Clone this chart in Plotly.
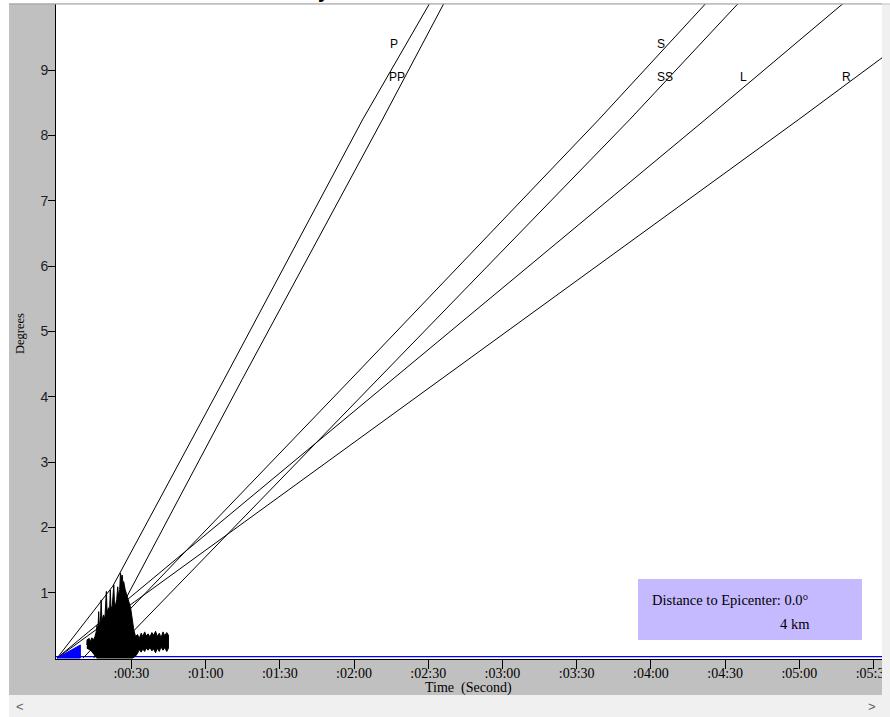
import plotly.graph_objects as go

# ---------------- data ----------------
# travel-time curves: time in seconds, distance in degrees
P_time = [0.0, 22.5, 67.4, 123.4, 150.5, 153.0]
P_deg = [0.0, 1.10, 4.26, 8.24, 10.02, 10.18]
PP_time = [14.8, 28.2, 48.9, 74.7, 131.4, 156.1, 158.5]
PP_deg = [0.0, 0.94, 2.42, 4.26, 8.24, 10.02, 10.18]
S_time = [10.5, 57.8, 118.5, 218.8, 262.3, 266.0]
S_deg = [0.0, 1.86, 4.26, 8.24, 10.02, 10.18]
SS_time = [20.3, 129.3, 231.3, 275.2, 279.0]
SS_deg = [0.0, 4.26, 8.24, 10.02, 10.18]
L_time = [0.0, 261.8, 317.6, 322.5]
L_deg = [0.0, 8.24, 10.02, 10.18]
R_time = [0.0, 299.5, 332.3, 345.0]
R_deg = [0.0, 8.24, 9.16, 9.50]

phase_names = ["P", "PP", "S", "SS", "L", "R"]
phase_times = [P_time, PP_time, S_time, SS_time, L_time, R_time]
phase_degs = [P_deg, PP_deg, S_deg, SS_deg, L_deg, R_deg]
label_time = [136.0, 137.5, 243.9, 245.8, 277.5, 318.9]
label_deg = [9.40, 8.89, 9.40, 8.89, 8.89, 8.89]

# seismogram envelope (upper edge left->right, lower edge right->left)
seis_up_t = [12.0, 12.1, 13.0, 13.5, 14.0, 14.7, 15.3, 15.8, 16.1, 16.5, 16.8, 17.1,
             17.5, 17.8, 18.1, 18.8, 19.3, 19.9, 20.2, 20.8, 21.2, 21.5, 21.8, 22.3,
             22.9, 23.2, 23.6, 24.1, 24.5, 24.8, 25.3, 25.6, 26.0, 26.3, 26.6, 26.9,
             27.5, 28.0, 28.5, 29.0, 29.7, 30.4, 31.0, 31.7, 32.5, 33.2, 34.0, 34.6,
             35.4, 36.0, 36.8, 37.5, 38.3, 39.0, 39.8, 40.5, 41.3, 42.0, 42.8, 43.5,
             44.3, 45.0]
seis_up_d = [0.20, 0.28, 0.30, 0.25, 0.31, 0.28, 0.33, 0.40, 0.50, 0.45, 0.71, 0.48,
             0.55, 0.89, 0.58, 0.66, 0.60, 1.02, 0.70, 0.77, 0.72, 1.04, 0.75, 0.80,
             1.12, 0.82, 0.81, 0.90, 1.09, 0.95, 1.05, 1.30, 1.22, 1.27, 1.15, 1.17,
             1.05, 0.97, 0.90, 0.86, 0.77, 0.58, 0.43, 0.33, 0.36, 0.30, 0.38, 0.33,
             0.40, 0.34, 0.37, 0.32, 0.39, 0.35, 0.41, 0.33, 0.38, 0.31, 0.40, 0.34,
             0.39, 0.35]
seis_lo_t = [45.0, 44.3, 43.5, 42.8, 42.0, 41.3, 40.5, 39.8, 39.0, 38.3, 37.5, 36.8,
             36.0, 35.4, 34.6, 34.0, 33.2, 32.5, 31.7, 30.5, 16.0, 15.0, 14.0, 13.0, 12.0]
seis_lo_d = [0.15, 0.10, 0.16, 0.12, 0.17, 0.10, 0.15, 0.08, 0.14, 0.11, 0.16, 0.12,
             0.15, 0.10, 0.14, 0.09, 0.13, 0.07, 0.03, 0.00, 0.00, 0.05, 0.10, 0.13, 0.15]

# blue wedge at origin and blue distance marker
wedge_t = [0.0, 9.4, 9.4, 0.0]
wedge_d = [0.0, 0.20, 0.0, 0.0]
marker_t = [-5.0, 350.0]
marker_d = [0.02, 0.02]

x_tickvals = [30, 60, 90, 120, 150, 180, 210, 240, 270, 300, 330]
x_ticktext = [":00:30", ":01:00", ":01:30", ":02:00", ":02:30", ":03:00",
              ":03:30", ":04:00", ":04:30", ":05:00", ":05:30"]
y_tickvals = [1, 2, 3, 4, 5, 6, 7, 8, 9]

distance_text = "Distance to Epicenter: 0.0\u00b0"
km_text = "4 km"

# ---------------- figure ----------------
W, H = 890, 717
ML, MR, MT, MB = 56, 8, 4, 58
PW, PH = W - ML - MR, H - MT - MB


def px2x(px):
    return (px - ML) / PW


def py2y(py):
    return (H - MB - py) / PH


fig = go.Figure()

fig.add_trace(go.Scatter(x=marker_t, y=marker_d, mode="lines",
                         line=dict(color="#0000ff", width=1.3),
                         hoverinfo="skip", showlegend=False))

for name, tt, dd in zip(phase_names, phase_times, phase_degs):
    fig.add_trace(go.Scatter(x=tt, y=dd, mode="lines", name=name,
                             line=dict(color="black", width=1),
                             hoverinfo="skip", showlegend=False))

fig.add_trace(go.Scatter(x=wedge_t, y=wedge_d, mode="lines", fill="toself",
                         fillcolor="#0000ff", line=dict(color="#0000ff", width=1),
                         hoverinfo="skip", showlegend=False))

fig.add_trace(go.Scatter(x=seis_up_t + seis_lo_t, y=seis_up_d + seis_lo_d,
                         mode="lines", fill="toself", fillcolor="black",
                         line=dict(color="black", width=1),
                         hoverinfo="skip", showlegend=False))

annotations = []
for name, lt, ld in zip(phase_names, label_time, label_deg):
    annotations.append(dict(x=lt, y=ld, xref="x", yref="y", text=name,
                            showarrow=False, xanchor="center", yanchor="middle",
                            font=dict(family="Liberation Sans", size=12, color="black")))

annotations += [
    dict(x=px2x(650), y=py2y(599.5), xref="paper", yref="paper", text=distance_text,
         showarrow=False, xanchor="left", yanchor="middle",
         font=dict(family="Liberation Serif", size=14.5, color="black")),
    dict(x=px2x(812), y=py2y(624), xref="paper", yref="paper", text=km_text,
         showarrow=False, xanchor="right", yanchor="middle",
         font=dict(family="Liberation Serif", size=14.5, color="black")),
    dict(x=px2x(468), y=py2y(688), xref="paper", yref="paper",
         text="Time\u00a0 (Second)", showarrow=False, xanchor="center", yanchor="middle",
         font=dict(family="Liberation Serif", size=14, color="black")),
    dict(x=px2x(20), y=py2y(334), xref="paper", yref="paper", text="Degrees",
         textangle=-90, showarrow=False, xanchor="center", yanchor="middle",
         font=dict(family="Liberation Serif", size=12.5, color="black")),
    dict(x=px2x(20), y=py2y(706), xref="paper", yref="paper", text="<",
         showarrow=False, xanchor="center", yanchor="middle",
         font=dict(family="Liberation Sans", size=13, color="#606060")),
    dict(x=px2x(872), y=py2y(706), xref="paper", yref="paper", text=">",
         showarrow=False, xanchor="center", yanchor="middle",
         font=dict(family="Liberation Sans", size=13, color="#606060")),
    dict(x=px2x(324), y=py2y(3), xref="paper", yref="paper", text="<b>y</b>",
         showarrow=False, xanchor="center", yanchor="bottom", borderpad=0,
         font=dict(family="Liberation Sans", size=20, color="black")),
]

shapes = [
    # distance box
    dict(type="rect", xref="paper", yref="paper", layer="above",
         x0=px2x(638), x1=px2x(862), y0=py2y(640), y1=py2y(579),
         fillcolor="#c5baff", line=dict(width=0)),
    # white strip on the left
    dict(type="rect", xref="paper", yref="paper", layer="above",
         x0=px2x(-2), x1=px2x(9), y0=py2y(H + 2), y1=py2y(-2),
         fillcolor="white", line=dict(width=0)),
    # white strip on top
    dict(type="rect", xref="paper", yref="paper", layer="above",
         x0=px2x(-2), x1=px2x(W + 2), y0=py2y(3.5), y1=py2y(-2),
         fillcolor="white", line=dict(width=0)),
    # top border line
    dict(type="line", xref="paper", yref="paper", layer="above",
         x0=px2x(9), x1=px2x(882), y0=py2y(4), y1=py2y(4),
         line=dict(color="#a0a0a0", width=1)),
    # right scrollbar
    dict(type="rect", xref="paper", yref="paper", layer="above",
         x0=px2x(882), x1=px2x(W + 2), y0=py2y(695), y1=py2y(4.5),
         fillcolor="#f0f0f0", line=dict(width=0)),
    # bottom scrollbar
    dict(type="rect", xref="paper", yref="paper", layer="above",
         x0=px2x(9), x1=px2x(W + 2), y0=py2y(H + 2), y1=py2y(695),
         fillcolor="#f0f0f0", line=dict(width=0)),
]

fig.update_layout(
    width=W, height=H,
    margin=dict(l=ML, r=MR, t=MT, b=MB, pad=0, autoexpand=False),
    paper_bgcolor="#c0c0c0", plot_bgcolor="white",
    showlegend=False,
    annotations=annotations, shapes=shapes,
    xaxis=dict(range=[-0.45, 333.4], tickmode="array", tickvals=x_tickvals,
               ticktext=x_ticktext, ticks="outside", ticklen=9, tickwidth=1,
               tickcolor="black", showline=True, linecolor="black", linewidth=1,
               showgrid=False, zeroline=False, automargin=False,
               ticklabelstandoff=-8, ticklabeloverflow="allow",
               tickfont=dict(family="Liberation Serif", size=14, color="black")),
    yaxis=dict(range=[-0.015, 10.015], tickmode="array", tickvals=y_tickvals,
               ticks="outside", ticklen=7, tickwidth=1, tickcolor="black",
               showline=True, linecolor="black", linewidth=1,
               showgrid=False, zeroline=False, automargin=False,
               ticklabelstandoff=-3,
               tickfont=dict(family="Liberation Sans", size=14, color="#222222")),
)

fig.write_html(
    "out.html",
    config={"displayModeBar": False},
    post_script="document.body.style.margin='0px';document.body.style.overflow='hidden';",
)
